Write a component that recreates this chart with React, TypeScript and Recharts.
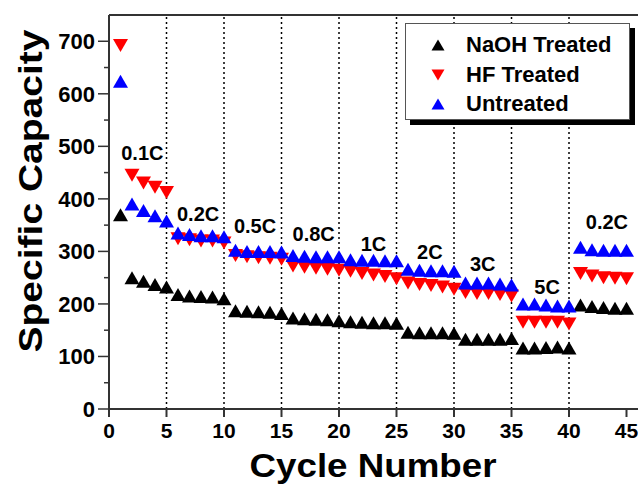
import { ScatterChart, Scatter, XAxis, YAxis, ReferenceLine, Legend, Label } from "recharts";

const cycles = [
  1, 2, 3, 4, 5, 6, 7, 8, 9, 10, 11, 12, 13, 14, 15, 16, 17, 18, 19, 20, 21, 22, 23,
  24, 25, 26, 27, 28, 29, 30, 31, 32, 33, 34, 35, 36, 37, 38, 39, 40, 41, 42, 43, 44, 45,
];

const naohTreated = [
  370, 250, 243, 237, 232, 218, 215, 214, 213, 210, 187, 186, 185, 184, 182, 173, 172, 171,
  170, 168, 166, 165, 164, 164, 163, 146, 145, 145, 145, 144, 133, 133, 133, 133, 134, 116,
  116, 117, 118, 116, 198, 195, 193, 192, 192,
];

const hfTreated = [
  692, 445, 430, 422, 412, 324, 322, 320, 320, 316, 292, 290, 288, 287, 285, 272, 270, 268,
  266, 264, 262, 258, 255, 252, 248, 240, 237, 235, 232, 228, 222, 220, 220, 218, 215, 165,
  165, 165, 165, 162, 258, 253, 250, 249, 248,
];

const untreated = [
  624, 390, 378, 368, 358, 335, 332, 330, 330, 328, 302, 300, 300, 300, 299, 292, 291, 290,
  290, 290, 284, 283, 283, 282, 282, 266, 264, 263, 263, 262, 240, 240, 240, 238, 236, 200,
  200, 198, 196, 196, 308, 303, 302, 302, 302,
];

const rateNames = ["0.1C", "0.2C", "0.5C", "0.8C", "1C", "2C", "3C", "5C", "0.2C"];
const rateX = [2.9, 7.75, 12.7, 17.8, 23.0, 27.9, 32.5, 38.1, 43.3];
const rateY = [487, 372, 349, 334, 315, 300, 277, 233, 357];

const xTicks = [0, 5, 10, 15, 20, 25, 30, 35, 40, 45];
const yTicks = [0, 50, 100, 150, 200, 250, 300, 350, 400, 450, 500, 550, 600, 650, 700];
const stepLines = [5, 10, 15, 20, 25, 30, 35, 40];

const FONT = '"Liberation Sans", Arial, sans-serif';

const series = [
  { name: "NaOH Treated", values: naohTreated, color: "#000000", down: false },
  { name: "HF Treated", values: hfTreated, color: "#ff0000", down: true },
  { name: "Untreated", values: untreated, color: "#0000ff", down: false },
];

function triPoints(cx: number, cy: number, w: number, h: number, down: boolean) {
  if (down) return `${cx - w / 2},${cy - h / 2} ${cx + w / 2},${cy - h / 2} ${cx},${cy + h / 2}`;
  return `${cx},${cy - h / 2} ${cx + w / 2},${cy + h / 2} ${cx - w / 2},${cy + h / 2}`;
}

const makeShape = (color: string, down: boolean) => (props: any) => {
  if (props.cx == null || props.cy == null) return null;
  return <polygon points={triPoints(props.cx, props.cy, 15, 13, down)} fill={color} />;
};

const rateShape = (props: any) => (
  <text
    x={props.cx}
    y={props.cy}
    dy="0.36em"
    textAnchor="middle"
    fontFamily={FONT}
    fontWeight="bold"
    fontSize={20}
    fill="#000"
  >
    {props.payload.name}
  </text>
);

const YTick = (props: any) => {
  const { x, y, payload } = props;
  const major = payload.value % 100 === 0;
  return (
    <g>
      <line x1={x - (major ? 11 : 5)} x2={x} y1={y} y2={y} stroke="#333" strokeWidth={1.5} />
      {major && (
        <text
          x={x - 14}
          y={y}
          dy="0.36em"
          textAnchor="end"
          fontFamily={FONT}
          fontWeight="bold"
          fontSize={22}
          fill="#000"
        >
          {payload.value}
        </text>
      )}
    </g>
  );
};

const LegendBox = () => (
  <div
    style={{
      position: "relative",
      width: 225,
      height: 97,
      border: "1px solid #555",
      boxShadow: "5px 5px 0 #000",
      background: "#fff",
      boxSizing: "border-box",
      fontFamily: FONT,
      fontWeight: "bold",
      fontSize: 22,
    }}
  >
    {series.map((s, i) => (
      <div
        key={s.name}
        style={{ position: "absolute", left: 0, top: 8 + i * 29.5, height: 26, display: "flex", alignItems: "center" }}
      >
        <svg width={60} height={26}>
          <polygon points={triPoints(32, 13, 13, 11, s.down)} fill={s.color} />
        </svg>
        <span style={{ color: "#000", whiteSpace: "nowrap" }}>{s.name}</span>
      </div>
    ))}
  </div>
);

export default function App() {
  const rateData = rateNames.map((name, i) => ({ cycle: rateX[i], v: rateY[i], name }));

  return (
    <div>
      <style>{`body{margin:0;}`}</style>
      <ScatterChart width={638} height={484} margin={{ top: 15, right: 0, bottom: 0, left: 0 }}>
        <XAxis
          type="number"
          dataKey="cycle"
          domain={[0, 46]}
          ticks={xTicks}
          allowDataOverflow
          height={75}
          tickSize={8}
          tickMargin={6}
          stroke="#333"
          strokeWidth={2}
          tick={{ fontFamily: FONT, fontWeight: "bold", fontSize: 21, fill: "#000" }}
        >
          <Label
            content={() => (
              <text
                x={373}
                y={477}
                textAnchor="middle"
                fontFamily={FONT}
                fontWeight="bold"
                fontSize={33}
                textLength={247}
                lengthAdjust="spacingAndGlyphs"
                fill="#000"
              >
                Cycle Number
              </text>
            )}
          />
        </XAxis>
        <YAxis
          type="number"
          dataKey="v"
          domain={[0, 750]}
          ticks={yTicks}
          width={109}
          tickSize={0}
          tickMargin={0}
          tickLine={false}
          stroke="#333"
          strokeWidth={2}
          tick={YTick}
        >
          <Label
            content={() => (
              <text
                transform="translate(42,191) rotate(-90)"
                textAnchor="middle"
                fontFamily={FONT}
                fontWeight="bold"
                fontSize={33}
                textLength={323}
                lengthAdjust="spacingAndGlyphs"
                fill="#000"
              >
                Specific Capacity
              </text>
            )}
          />
        </YAxis>
        <ReferenceLine y={750} stroke="#333" strokeWidth={2} />
        {stepLines.map((x) => (
          <ReferenceLine key={x} x={x} stroke="#000" strokeWidth={1.5} strokeDasharray="2 3" />
        ))}
        {series.map((s) => (
          <Scatter
            key={s.name}
            name={s.name}
            data={cycles.map((c, i) => ({ cycle: c, v: s.values[i] }))}
            fill={s.color}
            shape={makeShape(s.color, s.down)}
            isAnimationActive={false}
          />
        ))}
        <Scatter
          name="rates"
          data={rateData}
          shape={rateShape}
          legendType="none"
          isAnimationActive={false}
        />
        <Legend
          layout="horizontal"
          align="center"
          verticalAlign="middle"
          content={() => <LegendBox />}
          wrapperStyle={{ position: "absolute", left: 405, top: 23, width: 232, height: 105 }}
        />
      </ScatterChart>
    </div>
  );
}
